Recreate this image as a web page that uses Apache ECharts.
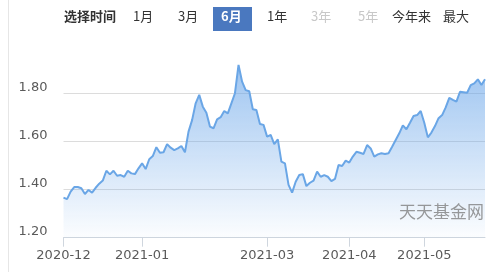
<!DOCTYPE html>
<html>
<head>
<meta charset="utf-8">
<script src="https://cdn.jsdelivr.net/npm/echarts@6/dist/echarts.min.js"></script>
<style>
html,body{margin:0;padding:0;background:#fff;}
#c{width:499px;height:272px;}
</style>
</head>
<body>
<div id="c"></div>
<script>
// trading days per month (day-of-month)
const monthDays = {
  '2020-12': [2,3,4,7,8,9,10,11,14,15,16,17,18,21,22,23,24,25,28,29,30,31],
  '2021-01': [4,5,6,7,8,11,12,13,14,15,18,19,20,21,22,25,26,27,28,29],
  '2021-02': [1,2,3,4,5,8,9,10,18,19,22,23,24,25,26],
  '2021-03': [1,2,3,4,5,8,9,10,11,12,15,16,17,18,19,22,23,24,25,26,29,30,31],
  '2021-04': [1,2,6,7,8,9,12,13,14,15,16,19,20,21,22,23,26,27,28,29,30],
  '2021-05': [6,7,10,11,12,13,14,17,18,19,20,21,24,25,26,27,28,31]
};
// dates where an x label is shown
const labelDates = ['2020-12-02','2021-01-04','2021-03-01','2021-04-01','2021-05-06'];
// y-axis tick labels
const yTicks = ['1.20','1.40','1.60','1.80'];
// net value series
const values = [
  1.367,1.361,1.392,1.411,1.411,1.406,1.382,1.399,1.388,1.408,
  1.425,1.438,1.479,1.464,1.479,1.458,1.461,1.454,1.479,1.468,
  1.465,1.489,1.510,1.486,1.527,1.540,1.577,1.554,1.556,1.590,
  1.575,1.565,1.572,1.582,1.556,1.642,1.690,1.760,1.795,1.746,
  1.721,1.663,1.656,1.693,1.702,1.728,1.718,1.760,1.802,1.920,
  1.850,1.815,1.810,1.735,1.732,1.674,1.670,1.621,1.628,1.590,
  1.610,1.517,1.510,1.420,1.388,1.433,1.461,1.465,1.415,1.429,
  1.438,1.475,1.454,1.461,1.454,1.436,1.445,1.503,1.499,1.521,
  1.513,1.538,1.558,1.554,1.549,1.586,1.572,1.538,1.547,1.552,
  1.549,1.552,1.579,1.607,1.635,1.668,1.652,1.679,1.707,1.711,
  1.728,1.679,1.618,1.638,1.665,1.698,1.711,1.743,1.783,1.774,
  1.767,1.808,1.806,1.804,1.836,1.843,1.860,1.836,1.860
];
// toolbar buttons
const buttons = [
  {t:'选择时间', x:64, c:'#333', bold:true},
  {t:'1月', x:133, c:'#333'},
  {t:'3月', x:178, c:'#333'},
  {t:'6月', x:221, c:'#fff', bold:true, active:true},
  {t:'1年', x:267, c:'#333'},
  {t:'3年', x:311, c:'#c8c8c8'},
  {t:'5年', x:358, c:'#c8c8c8'},
  {t:'今年来', x:392, c:'#333'},
  {t:'最大', x:443, c:'#333'}
];

const dates = [];
Object.keys(monthDays).forEach(m => {
  monthDays[m].forEach(d => dates.push(m + '-' + String(d).padStart(2,'0')));
});

const FONT = '"Noto Sans CJK SC", "Noto Sans", sans-serif';
const NUMFONT = '"DejaVu Sans", sans-serif';

const graphics = [
  {type:'line', shape:{x1:8.5,y1:0,x2:8.5,y2:272}, style:{stroke:'#e6e6e6', lineWidth:1}, silent:true},
  {type:'rect', shape:{x:213, y:7, width:39, height:24}, style:{fill:'#4a78bf'}, silent:true}
];
buttons.forEach(b => {
  graphics.push({
    type:'text', left:b.x, top:10, silent:true,
    style:{text:b.t, fill:b.c, font:(b.bold?'bold ':'') + '13px ' + FONT}
  });
});
graphics.push({
  type:'text', right:15, top:203, silent:true, z:10,
  style:{text:'天天基金网', fill:'rgba(120,120,120,0.75)', font:'17px ' + FONT}
});

const chart = echarts.init(document.getElementById('c'), null, {renderer:'canvas'});
chart.setOption({
  animation:false,
  graphic: graphics,
  grid:{left:63.5, right:14, top:45.7, bottom:34.3, containLabel:false},
  xAxis:{
    type:'category',
    data:dates,
    boundaryGap:false,
    axisLine:{lineStyle:{color:'#cfd6de', width:1}},
    axisTick:{
      show:true, length:9, lineStyle:{color:'#cfd6de'},
      interval:(i, v) => labelDates.indexOf(v) >= 0
    },
    axisLabel:{
      margin:11, color:'#5a5a5a', fontSize:13, fontFamily:NUMFONT,
      interval:(i, v) => labelDates.indexOf(v) >= 0,
      formatter:v => v.slice(0,7)
    },
    splitLine:{show:false}
  },
  yAxis:{
    type:'value',
    min:1.2, max:2.0, interval:0.2,
    axisLine:{show:false},
    axisTick:{show:false},
    axisLabel:{
      color:'#5a5a5a', fontSize:13, fontFamily:NUMFONT, margin:16,
      verticalAlign:'bottom',
      formatter:v => { const s = v.toFixed(2); return yTicks.indexOf(s) >= 0 ? s : ''; }
    },
    splitLine:{show:true, showMaxLine:false, showMinLine:false, lineStyle:{color:'#dcdcdc', width:1}}
  },
  series:[{
    type:'line',
    data:values,
    symbol:'none',
    smooth:false,
    lineStyle:{color:'#6aa6e6', width:2},
    areaStyle:{
      color:new echarts.graphic.LinearGradient(0,0,0,1,[
        {offset:0, color:'rgba(100,162,232,0.9)'},
        {offset:1, color:'rgba(100,162,232,0.03)'}
      ])
    }
  }]
});
</script>
</body>
</html>
